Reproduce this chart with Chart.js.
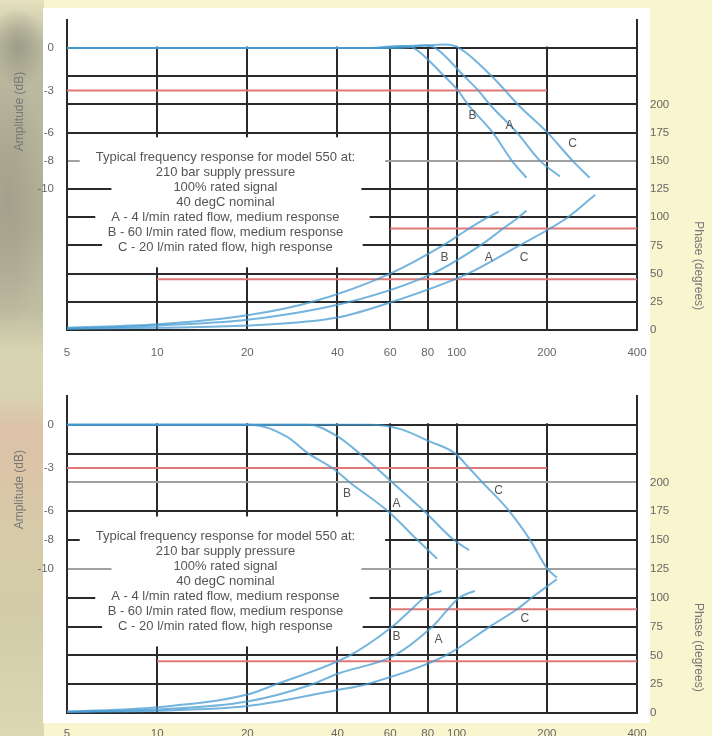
<!DOCTYPE html>
<html>
<head>
<meta charset="utf-8">
<title>Typical frequency response, model 550</title>
<script src="https://cdn.jsdelivr.net/npm/chart.js@4.4.1/dist/chart.umd.min.js"></script>
<style>
  html, body { margin: 0; padding: 0; }
  body { width: 712px; height: 736px; overflow: hidden; position: relative; background: #f9f5cf; }
  #photo { position: absolute; left: 0; top: 0; width: 44px; height: 736px;
    background:
      radial-gradient(ellipse 28px 40px at 18px 48px, #9d9c88 0%, rgba(157,156,136,0) 100%),
      radial-gradient(ellipse 40px 130px at 8px 200px, #a3a18b 0%, rgba(163,161,139,0) 100%),
      linear-gradient(180deg, #e6e2bf 0%, #bdbba1 6%, #b2b098 30%, #bfbda1 42%, #d8d5b3 48%, #d8d2b0 54%, #dcc2a6 58%, #dbc4a7 64%, #d6cba8 72%, #d3cca8 85%, #dcd8b4 100%); }
  #panel { position: absolute; left: 43px; top: 8px; width: 607px; height: 715px; background: #fff; }
  canvas { position: absolute; left: 0; filter: blur(0.35px); }
</style>
</head>
<body>
<div id="photo"></div>
<div id="panel"></div>
<canvas id="upper" width="712" height="368" style="top:0"></canvas>
<canvas id="lower" width="712" height="368" style="top:368px"></canvas>
<script>
// ================= AXES =================
const freqTicks = [5, 10, 20, 40, 60, 80, 100, 200, 400];
const ampTicks = [0, -3, -6, -8, -10];
const phaseTicks = [0, 25, 50, 75, 100, 125, 150, 175, 200, 225, 250];
const phaseLabelMax = 200; // 225 and 250 are the -2 dB and 0 dB lines, no label

// ================= NOTE =================
const noteLines = [
  "Typical frequency response for model 550 at:",
  "210 bar supply pressure",
  "100% rated signal",
  "40 degC nominal",
  "A - 4 l/min rated flow, medium response",
  "B - 60 l/min rated flow, medium response",
  "C - 20 l/min rated flow, high response"
];
const noteFreq = 16.9;  // centre of the note
const noteAmp = -7.75;  // first note line
const ampTitleAt = -4.5;
const phaseTitleAt = 57;

// ================= UPPER CHART  [Hz, dB] / [Hz, deg] =================
const upAmpA = [[5, 0], [55, 0], [68, 0.15], [78, 0.2], [85, 0], [106, -2], [118, -3], [129, -4], [159, -6], [190, -8], [221, -9.1]];
const upAmpB = [[5, 0], [50, 0], [60, 0.12], [66, 0.15], [72, 0], [91, -2], [101, -3], [109, -4], [132, -6], [153, -8], [171, -9.2]];
const upAmpC = [[5, 0], [62, 0], [80, 0.2], [92, 0.25], [102, 0], [131, -2], [145, -3], [160, -4], [201, -6], [244, -8], [278, -9.2]];
const upPhaseA = [[5, 1], [10, 4], [20, 9], [44, 25], [83, 50], [120, 75], [143, 90], [161, 100], [171, 106]];
const upPhaseB = [[5, 2], [10, 5], [20, 13], [33, 25], [60, 50], [90, 75], [110, 90], [125, 99], [138, 105]];
const upPhaseC = [[5, 1], [10, 2], [20, 4], [40, 11], [61, 25], [109, 50], [162, 75], [205, 90], [235, 100], [290, 120]];
const upAmpLetters = [["B", 113, -4.8], ["A", 150, -5.5], ["C", 244, -6.8]];
const upPhaseLetters = [["B", 91, 64], ["A", 128, 64], ["C", 168, 64]];

// ================= LOWER CHART =================
const loAmpA = [[5, 0], [32, 0], [40, -0.8], [47.5, -2], [54, -3], [61, -4], [78, -6], [98, -8], [110, -8.7]];
const loAmpB = [[5, 0], [20.5, 0], [27, -0.8], [32, -2], [38.5, -3], [44, -4], [59, -6], [74, -8], [86, -9.3]];
const loAmpC = [[5, 0], [51, 0], [65, -0.3], [80, -1.1], [99, -2], [110, -3], [122, -4], [150, -6], [176, -8], [201, -10], [216, -10.6]];
const loPhaseA = [[5, 1], [10, 3], [20, 10], [33, 25], [40, 34], [62, 50], [83, 75], [102, 100], [115, 106]];
const loPhaseB = [[5, 1], [10, 5], [20, 16], [25, 25], [44, 50], [61, 75], [70, 89], [78, 100], [89, 106]];
const loPhaseC = [[5, 1], [10, 2], [20, 6], [40, 20], [50, 25], [92, 50], [129, 75], [159, 90], [178, 100], [216, 116]];
const loAmpLetters = [["B", 43, -4.8], ["A", 63, -5.5], ["C", 138, -4.6]];
const loPhaseLetters = [["B", 63, 66], ["A", 87, 64], ["C", 169, 82]];

// red reference lines: [level, from Hz, to Hz]
const redAmp = [-3, 5, 200];
const redPhase = [[90, 60, 400], [45, 10, 400]];

// ================= STYLE =================
const FONT = '"Liberation Sans", Arial, sans-serif';
const BLUE = 'rgba(70,155,210,0.75)';
const RED = '#e07878';
const INK = '#2a2a2a';
const PALE = '#a0a0a0';
Chart.defaults.font.family = FONT;
Chart.defaults.color = '#666';

function pts(pairs) {
  return pairs.map(p => ({ x: p[0], y: p[1] }));
}

function curve(pairs, axis) {
  return {
    data: pts(pairs), yAxisID: axis, borderColor: BLUE, borderWidth: 2,
    pointRadius: 0, cubicInterpolationMode: 'monotone', order: 1
  };
}

function redLine(r, axis) {
  return {
    data: pts([[r[1], r[0]], [r[2], r[0]]]), yAxisID: axis,
    borderColor: RED, borderWidth: 2, pointRadius: 0, order: 2
  };
}

// note block, curve letters and axis titles
const decor = {
  id: 'decor',
  beforeDatasetsDraw(chart) {
    const { ctx, chartArea: a, scales: { x, y } } = chart;
    const zero = y.getPixelForValue(0);
    const gap = 15;
    ctx.save();
    ctx.fillStyle = '#fff';
    // frequency lines only start at 0 dB
    ctx.fillRect(a.left + 2, a.top, a.right - a.left - 4, zero - a.top - 1.5);
    ctx.font = '13px ' + FONT;
    const cx = x.getPixelForValue(noteFreq);
    const y0 = y.getPixelForValue(noteAmp);
    ctx.fillRect(cx - 114, y0 - 20, 250, gap * (noteLines.length - 1) + 40);
    noteLines.forEach((t, i) => {
      const w = ctx.measureText(t).width;
      ctx.fillRect(cx - w / 2 - 16, y0 + i * gap - 7, w + 46, 14);
    });
    ctx.fillStyle = '#555';
    ctx.textAlign = 'center';
    ctx.textBaseline = 'middle';
    noteLines.forEach((t, i) => ctx.fillText(t, cx, y0 + i * gap));
    ctx.restore();
  },
  afterDatasetsDraw(chart, args, o) {
    const { ctx, scales: { x, y, y1 } } = chart;
    ctx.save();
    ctx.fillStyle = '#555';
    ctx.font = '12px ' + FONT;
    ctx.textAlign = 'center';
    ctx.textBaseline = 'middle';
    o.ampLetters.forEach(l => ctx.fillText(l[0], x.getPixelForValue(l[1]), y.getPixelForValue(l[2])));
    o.phaseLetters.forEach(l => ctx.fillText(l[0], x.getPixelForValue(l[1]), y1.getPixelForValue(l[2])));
    ctx.fillStyle = '#777';
    ctx.translate(20, y.getPixelForValue(ampTitleAt));
    ctx.rotate(-Math.PI / 2);
    ctx.fillText('Amplitude (dB)', 0, 0);
    ctx.restore();
    ctx.save();
    ctx.fillStyle = '#777';
    ctx.font = '12px ' + FONT;
    ctx.textAlign = 'center';
    ctx.textBaseline = 'middle';
    ctx.translate(698, y1.getPixelForValue(phaseTitleAt));
    ctx.rotate(Math.PI / 2);
    ctx.fillText('Phase (degrees)', 0, 0);
    ctx.restore();
  }
};

function makeChart(id, c) {
  return new Chart(document.getElementById(id), {
    type: 'line',
    data: {
      datasets: [
        curve(c.ampA, 'y'), curve(c.ampB, 'y'), curve(c.ampC, 'y'),
        curve(c.phaseA, 'y1'), curve(c.phaseB, 'y1'), curve(c.phaseC, 'y1'),
        redLine(redAmp, 'y'), redLine(redPhase[0], 'y1'), redLine(redPhase[1], 'y1')
      ]
    },
    options: {
      responsive: false,
      animation: false,
      events: [],
      layout: { padding: { top: c.top, left: 0, right: 0, bottom: 0 } },
      plugins: {
        legend: { display: false },
        tooltip: { enabled: false },
        decor: { ampLetters: c.ampLetters, phaseLetters: c.phaseLetters }
      },
      scales: {
        x: {
          type: 'logarithmic', min: 5, max: 400,
          afterBuildTicks: s => { s.ticks = freqTicks.map(v => ({ value: v })); },
          afterFit: s => { s.height = c.xHeight; },
          ticks: { callback: v => v, padding: c.xPad, autoSkip: false, maxRotation: 0, font: { size: 11.5 } },
          grid: { color: INK, lineWidth: 2, drawTicks: false },
          border: { display: false }
        },
        y: {
          position: 'left', min: -20, max: 2,
          afterBuildTicks: s => { s.ticks = ampTicks.map(v => ({ value: v })); },
          afterFit: s => { s.width = 67; },
          ticks: { padding: 13, autoSkip: false, font: { size: 11.5 } },
          grid: { display: false, drawTicks: false },
          border: { display: true, color: INK, width: 2 }
        },
        y1: {
          position: 'right', min: 0, max: 275,
          afterBuildTicks: s => { s.ticks = phaseTicks.map(v => ({ value: v })); },
          afterFit: s => { s.width = 75; },
          ticks: { padding: 13, autoSkip: false, font: { size: 11.5 },
                   callback: v => (v <= phaseLabelMax ? v : '') },
          grid: { color: g => (c.pale.includes(g.tick.value) ? PALE : INK), lineWidth: 2, drawTicks: false },
          border: { display: true, color: INK, width: 2 }
        }
      }
    },
    plugins: [decor]
  });
}

makeChart('upper', {
  top: 16, xHeight: 38, xPad: 16, pale: [150],
  ampA: upAmpA, ampB: upAmpB, ampC: upAmpC,
  phaseA: upPhaseA, phaseB: upPhaseB, phaseC: upPhaseC,
  ampLetters: upAmpLetters, phaseLetters: upPhaseLetters
});

makeChart('lower', {
  top: 28, xHeight: 23, xPad: 14, pale: [125, 200],
  ampA: loAmpA, ampB: loAmpB, ampC: loAmpC,
  phaseA: loPhaseA, phaseB: loPhaseB, phaseC: loPhaseC,
  ampLetters: loAmpLetters, phaseLetters: loPhaseLetters
});
</script>
</body>
</html>
